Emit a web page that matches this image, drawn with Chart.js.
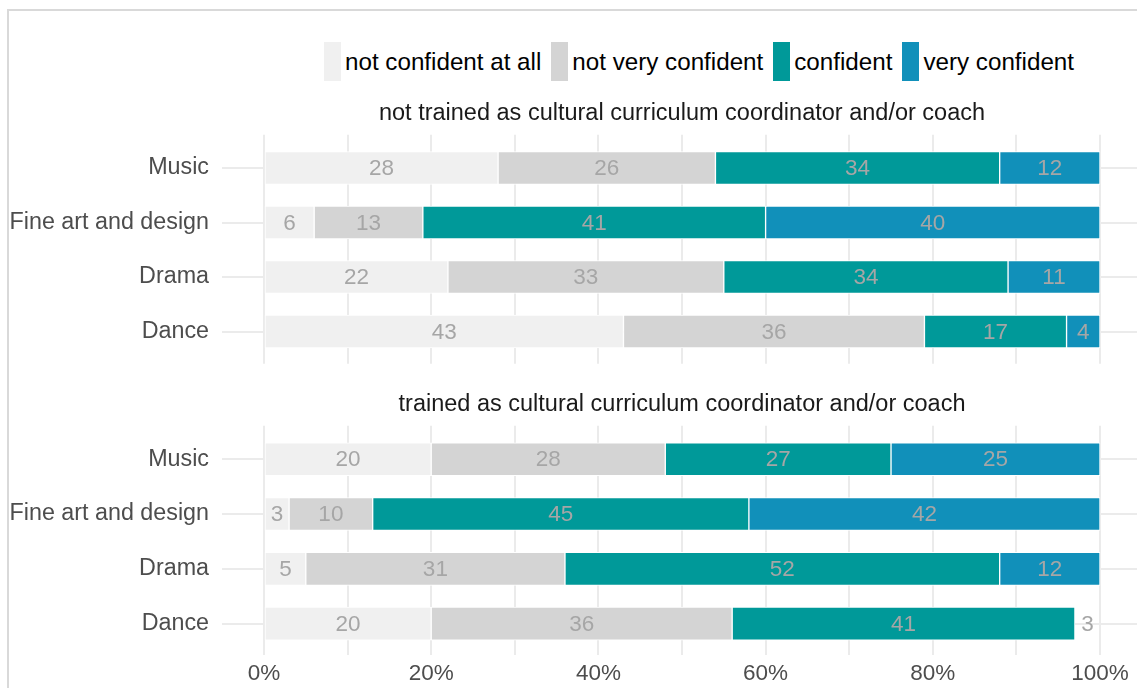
<!DOCTYPE html>
<html>
<head>
<meta charset="utf-8">
<script src="https://cdn.jsdelivr.net/npm/chart.js@4.4.1/dist/chart.umd.min.js"></script>
<style>
  body { margin: 0; width: 1137px; height: 688px; overflow: hidden; background: #fff; position: relative;
         font-family: "Liberation Sans", Arial, sans-serif; }
  #frame { position: absolute; left: 7px; top: 9px; width: 1200px; height: 800px; border: 2px solid #d9d9d9; }
  #legend { position: absolute; left: 324px; top: 42px; display: flex; align-items: center; }
  .item { display: flex; align-items: center; margin-right: 10px; }
  .box { width: 17px; height: 39px; margin-right: 4px; }
  .item span { font-size: 24.2px; color: #000; }
  canvas { position: absolute; left: 0; }
  #topChart { top: 0; }
  #bottomChart { top: 370px; }
</style>
</head>
<body>
<div id="frame"></div>
<div id="legend"></div>
<canvas id="topChart" width="1137" height="370"></canvas>
<canvas id="bottomChart" width="1137" height="330"></canvas>
<script>
//data
const categories = ['Music', 'Fine art and design', 'Drama', 'Dance'];
const levels = ['not confident at all', 'not very confident', 'confident', 'very confident'];
const colours = ['#f0f0f0', '#d4d4d4', '#009999', '#1190ba'];
const panelTitles = ['not trained as cultural curriculum coordinator and/or coach',
                     'trained as cultural curriculum coordinator and/or coach'];

const notTrainedNotAtAll = [28, 6, 22, 43];
const notTrainedNotVery = [26, 13, 33, 36];
const notTrainedConfident = [34, 41, 34, 17];
const notTrainedVery = [12, 40, 11, 4];

const trainedNotAtAll = [20, 3, 5, 20];
const trainedNotVery = [28, 10, 31, 36];
const trainedConfident = [27, 45, 52, 41];
const trainedVery = [25, 42, 12, 3];
// last "very confident" segment of Dance is not filled in the original
const trainedVeryFilled = [true, true, true, false];

const xTicks = [0, 10, 20, 30, 40, 50, 60, 70, 80, 90, 100];

//layout bits
const font = '"Liberation Sans", Arial, sans-serif';
const gridColour = '#ebebeb';
const plotLeft = 264;
const xMax = 100 * (1137 - 264) / (1100 - 264);

//legend
const legend = document.getElementById('legend');
levels.forEach((lv, i) => {
    const item = document.createElement('div');
    item.className = 'item';
    item.innerHTML = '<div class="box" style="background:' + colours[i] + '"></div><span>' + lv + '</span>';
    legend.appendChild(item);
});

//labels in the middle of each segment
const segmentLabels = {
    id: 'segmentLabels',
    afterDatasetsDraw(chart) {
        const ctx = chart.ctx;
        ctx.save();
        ctx.font = '22.5px ' + font;
        ctx.fillStyle = '#a6a6a6';
        ctx.textAlign = 'center';
        ctx.textBaseline = 'middle';
        chart.data.datasets.forEach((ds, i) => {
            chart.getDatasetMeta(i).data.forEach((bar, j) => {
                ctx.fillText(ds.data[j], (bar.x + bar.base) / 2, bar.y + 1);
            });
        });
        ctx.restore();
    }
};

//facet title above each panel
const panelTitle = {
    id: 'panelTitle',
    afterDraw(chart, args, opts) {
        const ctx = chart.ctx;
        ctx.save();
        ctx.font = '23.5px ' + font;
        ctx.fillStyle = '#1a1a1a';
        ctx.textAlign = 'center';
        ctx.textBaseline = 'middle';
        ctx.fillText(opts.text, chart.scales.x.getPixelForValue(50), opts.y);
        ctx.restore();
    }
};

function setTicks(scale) {
    scale.ticks = xTicks.map(v => ({ value: v }));
}

function showChart(id, series, title, titleY, pad, bottomTicks) {
    const datasets = series.map((data, i) => {
        let bg = colours[i];
        let border = '#ffffff';
        if (i === 3 && id === 'bottomChart') {
            bg = trainedVeryFilled.map(f => f ? colours[i] : 'rgba(0,0,0,0)');
            border = trainedVeryFilled.map(f => f ? '#ffffff' : 'rgba(0,0,0,0)');
        }
        return {
            label: levels[i],
            data: data,
            backgroundColor: bg,
            borderColor: border,
            borderWidth: 1,
            borderSkipped: false,
            barThickness: 33,
            xAxisID: 'x'
        };
    });

    const ctx = document.getElementById(id).getContext('2d');
    return new Chart(ctx, {
        type: 'bar',
        data: { labels: categories, datasets: datasets },
        plugins: [segmentLabels, panelTitle],
        options: {
            indexAxis: 'y',
            responsive: false,
            animation: false,
            layout: { padding: { top: pad.top, bottom: pad.bottom, left: 0, right: 0 } },
            plugins: {
                legend: { display: false },
                tooltip: { enabled: false },
                panelTitle: { text: title, y: titleY }
            },
            scales: {
                x: {
                    type: 'linear',
                    position: 'bottom',
                    stacked: true,
                    min: 0,
                    max: xMax,
                    afterBuildTicks: setTicks,
                    afterFit: s => { s.paddingLeft = 0; s.paddingRight = 0; },
                    border: { display: false },
                    grid: { color: gridColour, lineWidth: 2, tickLength: bottomTicks ? 4 : 5 },
                    ticks: {
                        display: bottomTicks,
                        autoSkip: false,
                        maxRotation: 0,
                        padding: 5,
                        color: '#4d4d4d',
                        font: { family: font, size: 22.5 },
                        callback: v => v % 20 === 0 ? v + '%' : ''
                    }
                },
                xt: {
                    type: 'linear',
                    position: 'top',
                    min: 0,
                    max: xMax,
                    afterBuildTicks: setTicks,
                    border: { display: false },
                    grid: { color: gridColour, lineWidth: 2, tickLength: 6, drawOnChartArea: false },
                    ticks: { display: false }
                },
                y: {
                    stacked: true,
                    afterFit: s => { s.width = plotLeft; s.paddingTop = 0; s.paddingBottom = 0; },
                    border: { display: false },
                    grid: { color: gridColour, lineWidth: 2, tickLength: 42, offset: false },
                    ticks: {
                        padding: 13,
                        color: '#4d4d4d',
                        font: { family: font, size: 23.3 }
                    }
                }
            }
        }
    });
}

showChart('topChart',
    [notTrainedNotAtAll, notTrainedNotVery, notTrainedConfident, notTrainedVery],
    panelTitles[0], 113.5, { top: 134.75, bottom: 6.25 }, false);

showChart('bottomChart',
    [trainedNotAtAll, trainedNotVery, trainedConfident, trainedVery],
    panelTitles[1], 35, { top: 55.8, bottom: 7.9 }, true);
</script>
</body>
</html>
